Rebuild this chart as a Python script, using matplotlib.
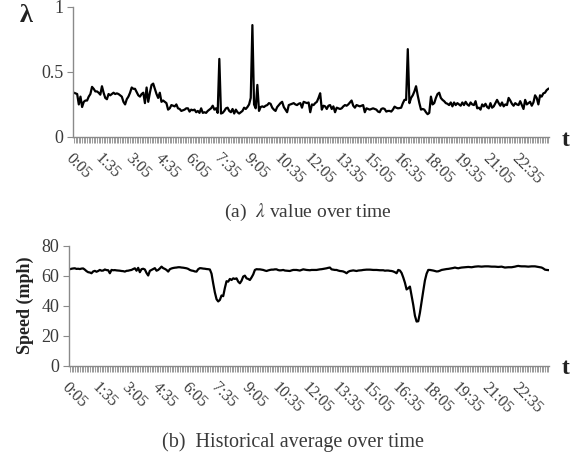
import numpy as np
import matplotlib

matplotlib.use("Agg")
import matplotlib.pyplot as plt

plt.rcParams["font.family"] = ["Liberation Serif", "DejaVu Serif"]
plt.rcParams["mathtext.fontset"] = "stix"

# 5-minute samples, 0:05 .. 24:00 (288 points), one row per hour
lam = [
    0.34, 0.335, 0.33, 0.25, 0.31, 0.23, 0.27, 0.28, 0.28, 0.31, 0.33, 0.385,
    0.37, 0.35, 0.35, 0.34, 0.325, 0.39, 0.34, 0.30, 0.29, 0.33, 0.32, 0.33,
    0.34, 0.33, 0.335, 0.33, 0.32, 0.31, 0.27, 0.25, 0.29, 0.31, 0.34, 0.38,
    0.37, 0.37, 0.345, 0.32, 0.31, 0.33, 0.34, 0.26, 0.38, 0.27, 0.34, 0.40,
    0.41, 0.37, 0.33, 0.30, 0.34, 0.27, 0.28, 0.27, 0.26, 0.21, 0.22, 0.245,
    0.24, 0.235, 0.25, 0.22, 0.215, 0.20, 0.205, 0.21, 0.22, 0.22, 0.195, 0.21,
    0.205, 0.21, 0.19, 0.20, 0.185, 0.22, 0.185, 0.19, 0.185, 0.20, 0.21, 0.22,
    0.24, 0.21, 0.22, 0.185, 0.60, 0.18, 0.185, 0.20, 0.22, 0.225, 0.20, 0.19,
    0.215, 0.18, 0.21, 0.19, 0.18, 0.19, 0.20, 0.225, 0.215, 0.23, 0.25, 0.30,
    0.86, 0.25, 0.22, 0.40, 0.20, 0.23, 0.235, 0.23, 0.24, 0.245, 0.26, 0.255,
    0.225, 0.21, 0.20, 0.23, 0.245, 0.26, 0.27, 0.23, 0.21, 0.19, 0.245, 0.25,
    0.255, 0.26, 0.25, 0.245, 0.255, 0.26, 0.225, 0.27, 0.265, 0.26, 0.265, 0.19,
    0.25, 0.245, 0.26, 0.27, 0.30, 0.336, 0.21, 0.24, 0.235, 0.215, 0.24, 0.245,
    0.215, 0.235, 0.19, 0.225, 0.22, 0.215, 0.22, 0.235, 0.245, 0.24, 0.25, 0.265,
    0.28, 0.24, 0.225, 0.245, 0.24, 0.235, 0.24, 0.245, 0.19, 0.22, 0.215, 0.21,
    0.215, 0.22, 0.215, 0.21, 0.195, 0.19, 0.215, 0.22, 0.215, 0.195, 0.20, 0.20,
    0.195, 0.21, 0.233, 0.225, 0.22, 0.222, 0.225, 0.259, 0.285, 0.285, 0.675, 0.26,
    0.30, 0.32, 0.35, 0.39, 0.32, 0.26, 0.21, 0.215, 0.21, 0.19, 0.175, 0.185,
    0.31, 0.25, 0.26, 0.30, 0.33, 0.34, 0.30, 0.285, 0.275, 0.26, 0.255, 0.245,
    0.265, 0.235, 0.265, 0.245, 0.26, 0.25, 0.24, 0.265, 0.245, 0.27, 0.25, 0.24,
    0.265, 0.25, 0.245, 0.275, 0.22, 0.225, 0.21, 0.25, 0.235, 0.255, 0.23, 0.22,
    0.26, 0.225, 0.235, 0.26, 0.285, 0.26, 0.24, 0.265, 0.235, 0.25, 0.245, 0.30,
    0.28, 0.255, 0.24, 0.26, 0.25, 0.245, 0.275, 0.245, 0.215, 0.285, 0.25, 0.26,
    0.27, 0.24, 0.265, 0.32, 0.30, 0.25, 0.32, 0.31, 0.335, 0.34, 0.36, 0.37,
]

speed = [
    64.5, 64.8, 65.0, 65.1, 64.7, 64.8, 64.6, 64.9, 65.0, 64.2, 63.2, 62.5,
    62.3, 61.8, 63.0, 63.4, 62.8, 63.3, 64.0, 63.5, 63.6, 64.3, 63.9, 63.8,
    61.8, 64.0, 63.8, 63.9, 63.7, 63.6, 63.5, 63.3, 63.2, 62.9, 63.4, 63.5,
    63.8, 64.0, 64.6, 65.1, 63.5, 65.4, 62.5, 64.5, 64.8, 64.3, 62.0, 60.3,
    63.4, 64.0, 64.6, 65.2, 63.5, 64.0, 65.0, 66.2, 65.2, 64.7, 64.0, 62.9,
    64.5, 65.0, 65.3, 65.5, 65.6, 65.8, 65.8, 65.6, 65.5, 65.3, 65.1, 64.7,
    64.0, 63.6, 63.4, 63.0, 62.9, 64.5, 65.2, 65.1, 64.9, 64.8, 64.6, 64.5,
    64.3, 61.5, 55.0, 49.0, 44.5, 43.0, 44.0, 47.0, 46.5, 52.0, 56.5, 56.2,
    58.0, 57.3, 58.4, 58.0, 58.4, 56.2, 55.1, 56.8, 59.6, 60.2, 58.4, 58.0,
    57.3, 59.0, 61.0, 64.0, 64.5, 64.4, 64.4, 64.2, 64.0, 63.6, 63.3, 63.7,
    64.0, 64.2, 64.2, 64.4, 64.4, 63.9, 63.7, 63.8, 64.0, 63.6, 63.5, 63.4,
    63.3, 63.7, 64.0, 64.0, 64.0, 63.8, 63.6, 64.0, 64.4, 64.2, 64.0, 63.9,
    63.8, 64.0, 64.0, 64.0, 64.0, 64.2, 64.4, 64.5, 64.7, 64.9, 65.1, 65.4,
    65.6, 64.4, 64.2, 64.0, 64.0, 63.6, 63.3, 63.2, 63.0, 62.5, 61.8, 62.8,
    63.3, 63.5, 63.7, 63.5, 63.3, 63.6, 63.7, 63.8, 64.0, 64.1, 64.2, 64.2,
    64.2, 64.1, 64.0, 64.0, 64.0, 63.9, 63.8, 63.8, 63.8, 63.5, 63.6, 63.6,
    63.4, 63.3, 63.0, 62.5, 61.8, 64.0, 63.6, 62.0, 59.0, 55.5, 51.0, 51.8,
    52.9, 47.0, 40.7, 33.5, 29.6, 29.8, 35.5, 43.0, 50.0, 57.0, 61.5, 64.0,
    64.0, 63.8, 63.6, 63.3, 63.0, 63.1, 63.5, 64.0, 64.2, 64.4, 64.6, 64.7,
    64.9, 65.1, 65.3, 65.6, 65.3, 65.1, 65.4, 65.6, 65.7, 65.8, 65.9, 66.0,
    65.9, 65.8, 66.0, 66.2, 66.3, 66.4, 66.3, 66.2, 66.3, 66.4, 66.4, 66.4,
    66.3, 66.2, 66.2, 66.2, 66.1, 66.0, 66.1, 66.2, 65.9, 65.6, 65.7, 65.8,
    65.8, 65.8, 66.0, 66.2, 66.5, 66.7, 66.5, 66.4, 66.4, 66.4, 66.3, 66.2,
    66.3, 66.4, 66.4, 66.4, 66.2, 66.0, 65.8, 65.6, 65.0, 64.2, 64.0, 63.9,
]

time_labels = ["0:05", "1:35", "3:05", "4:35", "6:05", "7:35", "9:05", "10:35",
               "12:05", "13:35", "15:05", "16:35", "18:05", "19:35", "21:05",
               "22:35"]
label_step = 18  # one label every 90 minutes

lam_ticks = [0, 0.5, 1]
lam_ticklabels = ["0", "0.5", "1"]
speed_ticks = [0, 20, 40, 60, 80]

GREY = "#8a8a8a"
TXT = "#3a3a3a"


def style_axis(ax, n):
    for s in ("top", "right"):
        ax.spines[s].set_visible(False)
    for s in ("left", "bottom"):
        ax.spines[s].set_color(GREY)
        ax.spines[s].set_linewidth(1.0)
    ax.set_xlim(-0.5, n - 0.5)
    ax.set_xticks(np.arange(0, n, 1), minor=True)
    ax.set_xticks(np.arange(len(time_labels)) * label_step)
    ax.set_xticklabels(time_labels, rotation=-45, ha="left", va="top",
                       rotation_mode="anchor", fontsize=11.5, color=TXT)
    ax.tick_params(axis="x", which="both", direction="out", length=4,
                   width=0.6, color=GREY, pad=6)
    ax.tick_params(axis="y", direction="out", length=4, width=0.8,
                   color=GREY, labelsize=13, labelcolor=TXT, pad=3)


fig = plt.figure(figsize=(5.75, 4.58), dpi=100)
n = len(lam)
x = np.arange(n)

ax1 = fig.add_axes([0.127, 0.701, 0.828, 0.284])
ax1.plot(x, lam, color="black", lw=1.6)
ax1.set_ylim(0, 1)
ax1.set_yticks(lam_ticks)
ax1.set_yticklabels(lam_ticklabels)
style_axis(ax1, n)
fig.text(0.045, 0.966, "λ", fontsize=19, fontweight="bold", ha="center",
         va="center", color="#222222")
fig.text(0.983, 0.694, "t", fontsize=17, fontweight="bold", ha="center",
         va="center", color="#222222")
fig.text(0.535, 0.537, r"(a)  $\lambda$ value over time", fontsize=14,
         ha="center", va="center", color=TXT)

ax2 = fig.add_axes([0.12, 0.201, 0.835, 0.262])
ax2.plot(np.arange(len(speed)), speed, color="black", lw=1.6)
ax2.set_ylim(0, 80)
ax2.set_yticks(speed_ticks)
style_axis(ax2, len(speed))
fig.text(0.044, 0.334, "Speed (mph)", fontsize=13, fontweight="bold",
         rotation=90, ha="center", va="center", color="#222222")
fig.text(0.983, 0.195, "t", fontsize=17, fontweight="bold", ha="center",
         va="center", color="#222222")
fig.text(0.51, 0.035, "(b)  Historical average over time", fontsize=14.5,
         ha="center", va="center", color=TXT)

fig.savefig("out.png", dpi=100)
